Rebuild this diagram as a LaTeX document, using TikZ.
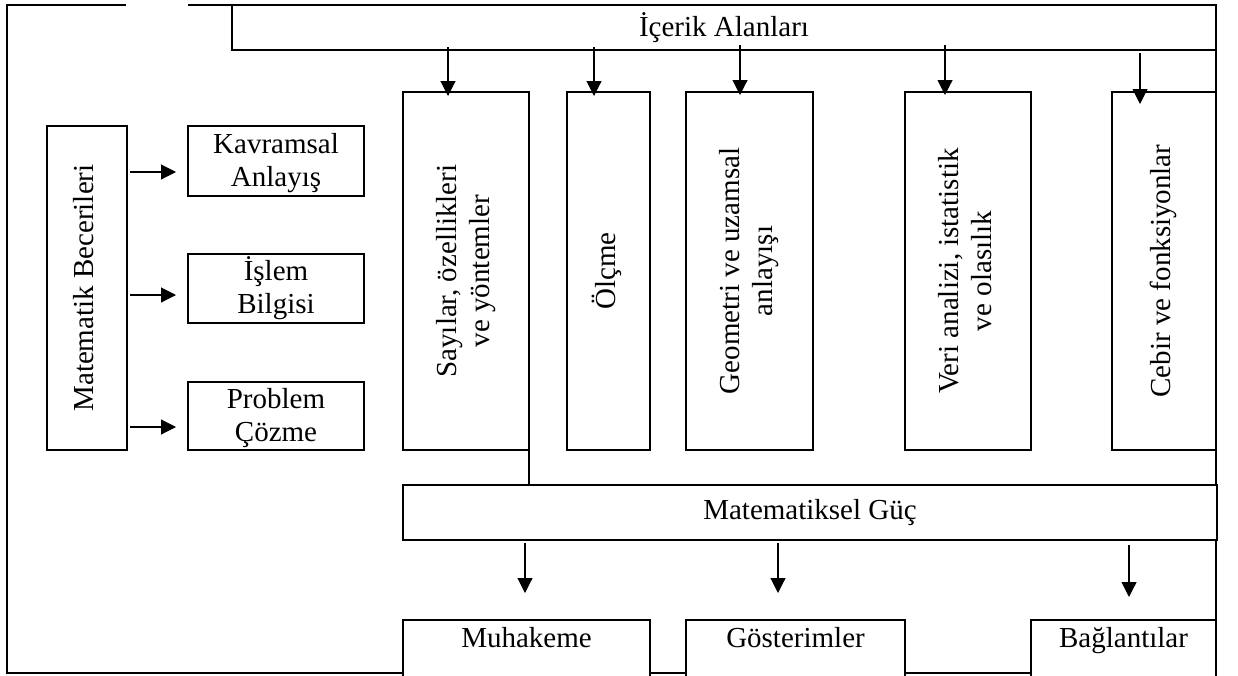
\documentclass[tikz,border=0pt]{standalone}
\usepackage{fontspec}
\setmainfont{Liberation Serif}
\usetikzlibrary{arrows.meta}
\newcommand\vtxt[1]{\rotatebox{90}{\begin{tabular}{@{}c@{}}#1\end{tabular}}}
\newcommand\tstrut{\rule{0pt}{25pt}}
\begin{document}
\begin{tikzpicture}[x=1pt,y=-1pt,
  box/.style={draw, line width=1.3pt, fill=white, inner sep=0pt, outer sep=0pt,
    align=center, font=\fontsize{29}{33}\selectfont},
  arr/.style={line width=1.1pt, -{Triangle[length=15pt,width=15pt]}},
  frameline/.style={line width=1.5pt}]
\useasboundingbox (0,0) rectangle (1238,675);
\begin{scope}
\clip (0,0) rectangle (1238,675);
% outer frame (with the gap in the top edge)
\draw[frameline] (126,5) -- (7,5) -- (7,673) -- (1216,673) -- (1216,5) -- (188,5);

% content areas
\node[box, minimum width=984pt, minimum height=45pt] (ic) at (724,27.5) {İçerik Alanları};

% skills column
\node[box, minimum width=80pt, minimum height=324pt] (mb) at (87,288) {\vtxt{Matematik Becerileri}};
\node[box, minimum width=176pt, minimum height=70pt] (kav) at (276,161) {\tstrut Kavramsal\\Anlayış};
\node[box, minimum width=176pt, minimum height=69pt] (isl) at (276,288.5) {İşlem\\Bilgisi};
\node[box, minimum width=176pt, minimum height=68pt] (pro) at (276,416) {\tstrut Problem\\Çözme};

% content boxes
\node[box, minimum width=126pt, minimum height=358pt] (say) at (466,271) {\vtxt{Sayılar, özellikleri\\ve yöntemler}};
\node[box, minimum width=83pt, minimum height=358pt] (olc) at (608.5,271) {\vtxt{Ölçme}};
\node[box, minimum width=127pt, minimum height=358pt] (geo) at (749.5,271) {\vtxt{Geometri ve uzamsal\\anlayışı}};
\node[box, minimum width=126pt, minimum height=358pt] (veri) at (968,271) {\vtxt{Veri analizi, istatistik\\ve olasılık}};
\node[box, minimum width=104pt, minimum height=358pt] (ceb) at (1164,271) {\vtxt{Cebir ve fonksiyonlar}};

% mathematical power
\node[box, minimum width=814pt, minimum height=55pt] (mg) at (810,512.5) {Matematiksel Güç};

% bottom boxes (open below)
\node[box, anchor=north, minimum width=247pt, minimum height=70pt, text height=23pt, text depth=39pt] (mu) at (526.5,620) {Muhakeme};
\node[box, anchor=north, minimum width=219pt, minimum height=70pt, text height=23pt, text depth=39pt] (gos) at (795.5,620) {Gösterimler};
\node[box, anchor=north, minimum width=185pt, minimum height=70pt, text height=23pt, text depth=39pt] (bag) at (1123.5,620) {Bağlantılar};

% link line from first content box to the power box
\draw[line width=1.3pt] (say.south east) -- (say.south east |- mg.north);

% arrow positions
\coordinate (xa1) at (448,0);
\coordinate (xa2) at (594,0);
\coordinate (xa3) at (740,0);
\coordinate (xa4) at (945,0);
\coordinate (xa5) at (1140,0);
\coordinate (ya1) at (0,172);
\coordinate (ya2) at (0,295);
\coordinate (ya3) at (0,427);
\coordinate (xb1) at (525,0);
\coordinate (xb2) at (778,0);
\coordinate (xb3) at (1129,0);

% top arrows
\draw[arr, shorten <=-3pt, shorten >=-4pt] (ic.south -| xa1) -- (say.north -| xa1);
\draw[arr, shorten <=-3pt, shorten >=-4pt] (ic.south -| xa2) -- (olc.north -| xa2);
\draw[arr, shorten <=-5pt, shorten >=-3pt] (ic.south -| xa3) -- (geo.north -| xa3);
\draw[arr, shorten <=-5pt, shorten >=-3pt] (ic.south -| xa4) -- (veri.north -| xa4);
\draw[arr, shorten <=3pt, shorten >=-12pt] (ic.south -| xa5) -- (ceb.north -| xa5);

% skill arrows
\draw[arr, shorten <=3pt, shorten >=12pt] (mb.east |- ya1) -- (kav.west |- ya1);
\draw[arr, shorten <=3pt, shorten >=12pt] (mb.east |- ya2) -- (isl.west |- ya2);
\draw[arr, shorten <=3pt, shorten >=12pt] (mb.east |- ya3) -- (pro.west |- ya3);

% bottom arrows
\draw[arr, shorten <=3pt, shorten >=27pt] (mg.south -| xb1) -- (mu.north -| xb1);
\draw[arr, shorten <=3pt, shorten >=27pt] (mg.south -| xb2) -- (gos.north -| xb2);
\draw[arr, shorten <=5pt, shorten >=23pt] (mg.south -| xb3) -- (bag.north -| xb3);
\end{scope}
\end{tikzpicture}
\end{document}
